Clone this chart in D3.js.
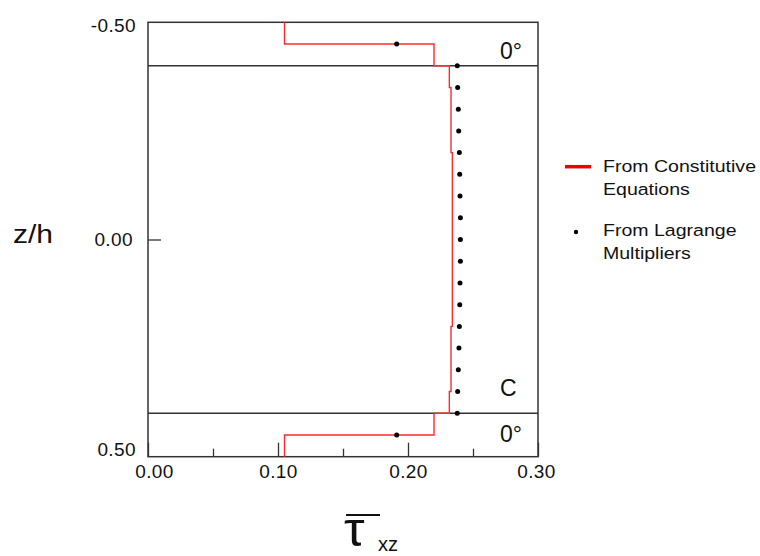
<!DOCTYPE html>
<html>
<head>
<meta charset="utf-8">
<script src="https://cdn.jsdelivr.net/npm/d3@7"></script>
<style>
  html, body { margin: 0; padding: 0; background: #fff; }
  svg { display: block; }
  text { font-family: "Liberation Sans", Arial, sans-serif; fill: #111; }
</style>
</head>
<body>
<svg id="chart" width="760" height="556"></svg>
<script>
// Through-thickness transverse shear stress, laminate [0 / C / 0]
const zEdges = [-0.50, -0.45, -0.40, -0.35, -0.20, 0.20, 0.35, 0.40, 0.45, 0.50];
const constitutive = [0.105, 0.220, 0.2318, 0.2331, 0.2341, 0.2331, 0.2318, 0.220, 0.105];

const zDots = [-0.45, -0.40, -0.35, -0.30, -0.25, -0.20, -0.15, -0.10, -0.05, 0.00,
               0.05, 0.10, 0.15, 0.20, 0.25, 0.30, 0.35, 0.40, 0.45];
const lagrange = [0.1913, 0.2379, 0.2382, 0.2387, 0.2390, 0.2395, 0.2398, 0.2400, 0.2403, 0.2403,
                  0.2403, 0.2400, 0.2398, 0.2395, 0.2392, 0.2387, 0.2382, 0.2379, 0.1913];

const interfaces = [-0.40, 0.40];
const layerLabels = ["0°", "C", "0°"];
const layerLabelZ = [-0.45, 0.35, 0.45];

const xTicksMajor = [0.00, 0.10, 0.20, 0.30];
const xTicksMinor = [0.05, 0.15, 0.25];
const yTicks = [-0.50, 0.00, 0.50];

const legendItems = [
  { kind: "line", lines: ["From Constitutive", "Equations"] },
  { kind: "dot", lines: ["From Lagrange", "Multipliers"] }
];

const svg = d3.select("#chart");
const plotL = 148, plotR = 538, plotT = 22.3, plotB = 456.7;
const x = d3.scaleLinear().domain([0, 0.3]).range([plotL, plotR]);
const y = d3.scaleLinear().domain([-0.5, 0.5]).range([plotT, plotB]);

const frameColor = "#333";

// x axis: ticks point inward (up); major ticks longer
const xAxisMajor = svg.append("g")
  .attr("transform", `translate(0,${plotB})`)
  .call(d3.axisBottom(x).tickValues(xTicksMajor).tickSize(-14).tickPadding(0)
        .tickFormat(d => d.toFixed(2)));
xAxisMajor.select(".domain").remove();
xAxisMajor.selectAll("line").attr("stroke", frameColor).attr("stroke-width", 1.3);
xAxisMajor.selectAll("text")
  .attr("font-size", 19)
  .attr("letter-spacing", 0.4)
  .attr("fill", "#111")
  .attr("dy", 0)
  .attr("y", 21)
  .attr("x", d => d === 0 ? 6 : (d === 0.3 ? -2 : 0));

const xAxisMinor = svg.append("g")
  .attr("transform", `translate(0,${plotB})`)
  .call(d3.axisBottom(x).tickValues(xTicksMinor).tickSize(-8).tickFormat(""));
xAxisMinor.select(".domain").remove();
xAxisMinor.selectAll("line").attr("stroke", frameColor).attr("stroke-width", 1.3);

// y axis: only the middle tick is drawn, inward
const yAxis = svg.append("g")
  .attr("transform", `translate(${plotL},0)`)
  .call(d3.axisLeft(y).tickValues(yTicks).tickSize(0).tickPadding(12)
        .tickFormat(d => d.toFixed(2)));
yAxis.select(".domain").remove();
yAxis.selectAll(".tick").append("line")
  .attr("x1", 0).attr("x2", d => d === 0 ? 13 : 0)
  .attr("stroke", frameColor).attr("stroke-width", 1.3);
yAxis.selectAll("text")
  .attr("font-size", 19)
  .attr("letter-spacing", 0.4)
  .attr("fill", "#111")
  .attr("dy", 0)
  .attr("y", d => d < 0 ? 9.5 : (d > 0 ? -1.7 : 5.5))
  .attr("x", d => d === 0 ? -15 : -12);

// plot frame
svg.append("rect")
  .attr("x", plotL).attr("y", plotT)
  .attr("width", plotR - plotL).attr("height", plotB - plotT)
  .attr("fill", "none").attr("stroke", frameColor).attr("stroke-width", 1.5);

// ply interfaces
svg.selectAll(".iface").data(interfaces).join("line")
  .attr("class", "iface")
  .attr("x1", plotL).attr("x2", plotR)
  .attr("y1", d => y(d)).attr("y2", d => y(d))
  .attr("stroke", frameColor).attr("stroke-width", 1.5);

// stepped stress profile from constitutive equations
const stepPts = [];
constitutive.forEach((v, i) => {
  stepPts.push([v, zEdges[i]]);
  stepPts.push([v, zEdges[i + 1]]);
});
svg.append("path")
  .datum(stepPts)
  .attr("fill", "none")
  .attr("stroke", "#ff2a2a")
  .attr("stroke-width", 1.4)
  .attr("d", d3.line().x(d => x(d[0])).y(d => y(d[1])));

// Lagrange multiplier values
svg.selectAll(".lm").data(zDots.map((z, i) => [lagrange[i], z])).join("circle")
  .attr("class", "lm")
  .attr("cx", d => x(d[0])).attr("cy", d => y(d[1]))
  .attr("r", 2.5).attr("fill", "#000");

// ply labels
const plyOffset = [15.3, 4.5, 7];
svg.selectAll(".ply").data(layerLabels).join("text")
  .attr("class", "ply")
  .attr("x", 500)
  .attr("y", (d, i) => y(layerLabelZ[i]) + plyOffset[i])
  .attr("font-size", 23)
  .text(d => d);

// axis titles
svg.append("text")
  .attr("transform", "translate(13,242.5) scale(1.2,1)")
  .attr("font-size", 25)
  .text("z/h");

svg.append("line")
  .attr("x1", 346).attr("x2", 380).attr("y1", 515).attr("y2", 515)
  .attr("stroke", "#111").attr("stroke-width", 2);
svg.append("text")
  .attr("transform", "translate(344,545.5) scale(1.3,1.2)")
  .attr("font-size", 40)
  .text("τ");
svg.append("text")
  .attr("x", 378).attr("y", 551)
  .attr("font-size", 20)
  .text("xz");

// legend
const legend = svg.append("g");
const legendRowY = [171.7, 236];
legendItems.forEach((item, i) => {
  const by = legendRowY[i];
  if (item.kind === "line") {
    legend.append("line")
      .attr("x1", 565).attr("x2", 591).attr("y1", by - 5).attr("y2", by - 5)
      .attr("stroke", "#ee0000").attr("stroke-width", 3.5);
  } else {
    legend.append("circle")
      .attr("cx", 576).attr("cy", by - 4).attr("r", 2.2).attr("fill", "#000");
  }
  item.lines.forEach((t, j) => {
    legend.append("text")
      .attr("transform", `translate(603,${by + j * 23}) scale(1.15,1)`)
      .attr("font-size", 17)
      .text(t);
  });
});
</script>
</body>
</html>
